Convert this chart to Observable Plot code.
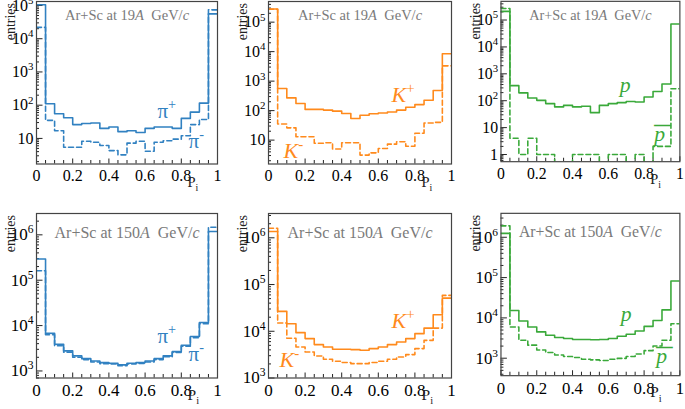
<!DOCTYPE html>
<html><head><meta charset="utf-8">
<script src="https://cdn.jsdelivr.net/npm/d3@7"></script>
<script src="https://cdn.jsdelivr.net/npm/@observablehq/plot@0.6"></script>
<style>
body{margin:0;background:#fff;}
#root{position:relative;width:685px;height:409px;overflow:hidden;background:#fff;}
.panel{position:absolute;}
.panel svg{overflow:visible;background:transparent;}
</style></head><body><div id="root"></div>
<script>
// bin lower edges of P_i histogram (bin width 0.05)
const bins = d3.range(20).map(i => +(i * 0.05).toFixed(2));

// Ar+Sc at 19A GeV/c
const pionPos19   = [1.05e5, 110, 55, 42, 26, 28, 29, 20, 22, 16, 17, 15, 20, 22, 22, 20, 40, 62, 115, 5.6e4];
const pionNeg19   = [2.2e4, 35, 17, 5.4, 5.4, 8.2, 7.7, 6.1, 4.3, 3.2, 7.2, 8.2, 4.1, 7.7, 8.5, 9.5, 12, 26, 37, 7.4e4];
const kaonPos19   = [2.8e5, 560, 270, 175, 110, 110, 104, 96, 80, 54, 70, 78, 83, 90, 104, 130, 160, 225, 480, 8500];
const kaonNeg19   = [2.75e5, 35, 26, 13, 13, 7.8, 8.1, 5, 8.1, 8.1, 3.1, 3.7, 5.2, 7.3, 8.8, 6.2, 17, 38, 40, 3300];
const protonPos19 = [2.1e5, 363, 196, 126, 103, 78, 59, 67, 59, 62, 36, 67, 78, 85, 94, 90, 137, 219, 420, 7.1e4];
const protonNeg19 = [2.7e5, 4, 1, 4, 1, 1, 0, 0, 1, 1, 1, 0, 1, 1, 0, 1, 0, 2, 2, 280];
// Ar+Sc at 150A GeV/c
const pionPos150   = [2.94e5, 6800, 3890, 2770, 2150, 1870, 1660, 1530, 1480, 1360, 1480, 1530, 1660, 1870, 2150, 2670, 3700, 5730, 11700, 1.18e6];
const pionNeg150   = [1.62e5, 6300, 3600, 2600, 2000, 1780, 1580, 1450, 1420, 1300, 1420, 1460, 1580, 1780, 2050, 2550, 3500, 5400, 11000, 1.47e6];
const kaonPos150   = [1.36e6, 26700, 14500, 9350, 6960, 5180, 4600, 4110, 4110, 4050, 3920, 4260, 4600, 5180, 5890, 6960, 8900, 11700, 22600, 51300];
const kaonNeg150   = [1.6e6, 15000, 7100, 4600, 3600, 2960, 2510, 2280, 2140, 2030, 2030, 2140, 2280, 2510, 2820, 3170, 4260, 6400, 11700, 58600];
const protonPos150 = [1.25e6, 15200, 8350, 5960, 4500, 3720, 3260, 3090, 2920, 2900, 2880, 2900, 3090, 3500, 3930, 4750, 6160, 8630, 15800, 82000];
const protonNeg150 = [1.92e6, 5960, 2800, 2110, 1600, 1380, 1200, 1100, 1040, 946, 910, 880, 946, 990, 1100, 1270, 1540, 2000, 2800, 7180];

// texts
const titles = ["Ar+Sc at 19*{A}  GeV/*{c}", "Ar+Sc at 150*{A}  GeV/*{c}"];
const yLabel = "entries";
const xLabel = "P_{i}";
const xTickValues = [0, 0.2, 0.4, 0.6, 0.8, 1];
const xTickLabels = ["0", "0.2", "0.4", "0.6", "0.8", "1"];
const particleNames = {
  pion: ["π^{+}", "π^{-}"],
  kaon: ["*{K}^{+}", "*{K}^{-}"],
  proton: ["*{p}", "~{*{p}}"]
};
// label anchor positions (P_i, entries) for [positive, negative]
const labelPos19  = {pion: [[0.668, 66], [0.840, 8.3]], kaon: [[0.672, 333], [0.082, 4.26]], proton: [[0.664, 385], [0.857, 5.7]]};
const labelPos150 = {pion: [[0.668, 5750], [0.840, 2300]], kaon: [[0.672, 16300], [0.060, 2390]], proton: [[0.669, 12600], [0.868, 1120]]};

// styles
const colors = {pion: "#3181c1", kaon: "#ff8a1c", proton: "#3aa93a"};
const dash = "5,3";

// layout: frame in page px, y extent in log10
const cols = [{L: 36, fw: 181}, {L: 268, fw: 183}, {L: 500.7, fw: 181.3}];
const rows = [{T: 1, ph: 162.5, fs: 16, tfs: 14.5, tdy: 8.5, efs: 14, pdy: 23}, {T: 213, ph: 164.5, fs: 17, tfs: 16, tdy: 13, efs: 14, pdy: 22}];
const yExt = [
  [[0.23, 5.12], [0.19, 5.70], [-0.267, 5.695]],
  [[2.845, 6.47], [3.0, 6.52], [2.567, 6.594]]
];

const seriesByRow = [
  {pion: [pionPos19, pionNeg19], kaon: [kaonPos19, kaonNeg19], proton: [protonPos19, protonNeg19]},
  {pion: [pionPos150, pionNeg150], kaon: [kaonPos150, kaonNeg150], proton: [protonPos150, protonNeg150]}
];
const species = ["pion", "kaon", "proton"];

const ML = 40, MR = 6, MT = 12, MB = 36;
const root = document.getElementById("root");
const NS = "http://www.w3.org/2000/svg";

function rich(svg) {
  svg.querySelectorAll("text").forEach(t => {
    const s = t.textContent;
    if (!/[\^_*~]\{/.test(s)) return;
    const fs = parseFloat(getComputedStyle(t).fontSize);
    while (t.firstChild) t.removeChild(t.firstChild);
    let shift = 0;
    function emit(str, st) {
      if (!str) return;
      const sp = document.createElementNS(NS, "tspan");
      sp.textContent = str;
      const target = st.sup ? -0.42 * fs : st.sub ? 0.28 * fs : 0;
      if (target !== shift) { sp.setAttribute("dy", target - shift); shift = target; }
      if (st.sup || st.sub) sp.setAttribute("font-size", 0.68 * fs);
      if (st.it) sp.setAttribute("font-style", "italic");
      t.appendChild(sp);
      if (st.ov) {
        // bar over the preceding glyph (a wide macron)
        const bar = document.createElementNS(NS, "tspan");
        bar.textContent = "\u00AF";
        bar.setAttribute("font-size", 1.5 * fs);
        bar.setAttribute("dx", -0.5 * fs);
        const tgt = 0.36 * fs;
        bar.setAttribute("dy", tgt - shift); shift = tgt;
        t.appendChild(bar);
      }
    }
    function parse(str, st) {
      let i = 0, buf = "";
      while (i < str.length) {
        const c = str[i];
        if ("^_*~".includes(c) && str[i + 1] === "{") {
          emit(buf, st); buf = "";
          let depth = 1, j = i + 2;
          while (j < str.length && depth) { if (str[j] === "{") depth++; else if (str[j] === "}") depth--; j++; }
          const inner = str.slice(i + 2, j - 1);
          const ns = Object.assign({}, st);
          if (c === "^") ns.sup = true; if (c === "_") ns.sub = true; if (c === "*") ns.it = true; if (c === "~") ns.ov = true;
          if (c === "~") { const inner2 = inner.replace(/^\*\{(.*)\}$/, "$1"); if (inner2 !== inner) ns.it = true; emit(inner2, ns); }
          else parse(inner, ns);
          i = j;
        } else { buf += c; i++; }
      }
      emit(buf, st);
    }
    parse(s, {});
  });
}

rows.forEach((row, r) => {
  cols.forEach((col, c) => {
    const sp = species[c];
    const [lo, hi] = yExt[r][c];
    const fw = col.fw, ph = row.ph;
    const pxPerDec = ph / (hi - lo);
    const floor = Math.pow(10, lo - 1);
    const major = d3.range(Math.ceil(lo), Math.floor(hi) + 1).map(k => Math.pow(10, k));
    const minor = [];
    for (let k = Math.floor(lo); k <= Math.floor(hi); k++)
      for (let m = 2; m <= 9; m++) { const v = m * Math.pow(10, k); if (Math.log10(v) > lo && Math.log10(v) < hi) minor.push(v); }
    const xMinor = d3.range(21).map(i => +(i * 0.05).toFixed(2)).filter(v => !xTickValues.includes(v));
    const fmtY = v => { const k = Math.round(Math.log10(v)); return k === 0 ? "1" : k === 1 ? "10" : `10^{${k}}`; };
    const lines = seriesByRow[r][sp].map((vals, s) => {
      const pts = bins.map((x, i) => ({x, y: vals[i] > 0 ? vals[i] : floor}));
      pts.push({x: 1, y: pts[pts.length - 1].y});
      return Plot.line(pts, {x: "x", y: "y", curve: "step-after", stroke: colors[sp], strokeWidth: 1.6, strokeDasharray: s ? dash : null, clip: true});
    });
    const lp = (r === 0 ? labelPos19 : labelPos150)[sp];
    const labels = lp.map((p, s) => ({x: p[0], y: p[1], text: particleNames[sp][s]}));
    const lfs = sp === "pion" ? 21 : 22;
    const yb = Math.pow(10, lo);
    const plot = Plot.plot({
      width: ML + fw + MR, height: MT + ph + MB,
      marginLeft: ML, marginRight: MR, marginTop: MT, marginBottom: MB,
      x: {domain: [0, 1]},
      y: {type: "log", domain: [yb, Math.pow(10, hi)]},
      style: {fontFamily: "'Liberation Serif', 'Times New Roman', serif", fontSize: row.fs + "px", background: "transparent", overflow: "visible", color: "#000"},
      marks: [
        Plot.ruleY(minor, {y: d => d, x1: 0, x2: 3 / fw, stroke: "#222", strokeWidth: 1}),
        Plot.ruleY(major, {y: d => d, x1: 0, x2: 6.5 / fw, stroke: "#222", strokeWidth: 1}),
        Plot.ruleX(xMinor, {x: d => d, y1: yb, y2: Math.pow(10, lo + 3.5 / pxPerDec), stroke: "#222", strokeWidth: 1}),
        Plot.ruleX(xTickValues, {x: d => d, y1: yb, y2: Math.pow(10, lo + 5 / pxPerDec), stroke: "#222", strokeWidth: 1}),
        ...lines,
        Plot.frame({stroke: "#444", strokeWidth: 1.2}),
        Plot.axisX({ticks: xTickValues, tickFormat: v => xTickLabels[xTickValues.indexOf(v)], tickSize: 0, tickPadding: 6, label: null}),
        Plot.axisY({ticks: major, tickFormat: fmtY, tickSize: 0, tickPadding: 3, label: null}),
        Plot.text([titles[r]], {frameAnchor: "top", dy: row.tdy, fill: "#7a7a7a", fontSize: row.tfs}),
        Plot.text([yLabel], {frameAnchor: "top-left", rotate: -90, textAnchor: "end", dx: -31, dy: 1.5, fontSize: row.efs, fill: "#222"}),
        Plot.text([xLabel], {frameAnchor: "bottom-right", textAnchor: "start", dx: -30, dy: row.pdy, fontSize: row.fs - 1.5, fill: "#222"}),
        Plot.text(labels, {x: "x", y: "y", text: "text", textAnchor: "start", fill: colors[sp], fontSize: lfs})
      ]
    });
    const div = document.createElement("div");
    div.className = "panel";
    div.style.left = (col.L - ML) + "px";
    div.style.top = (row.T - MT) + "px";
    div.appendChild(plot);
    root.appendChild(div);
    rich(plot);
  });
});
</script></body></html>
